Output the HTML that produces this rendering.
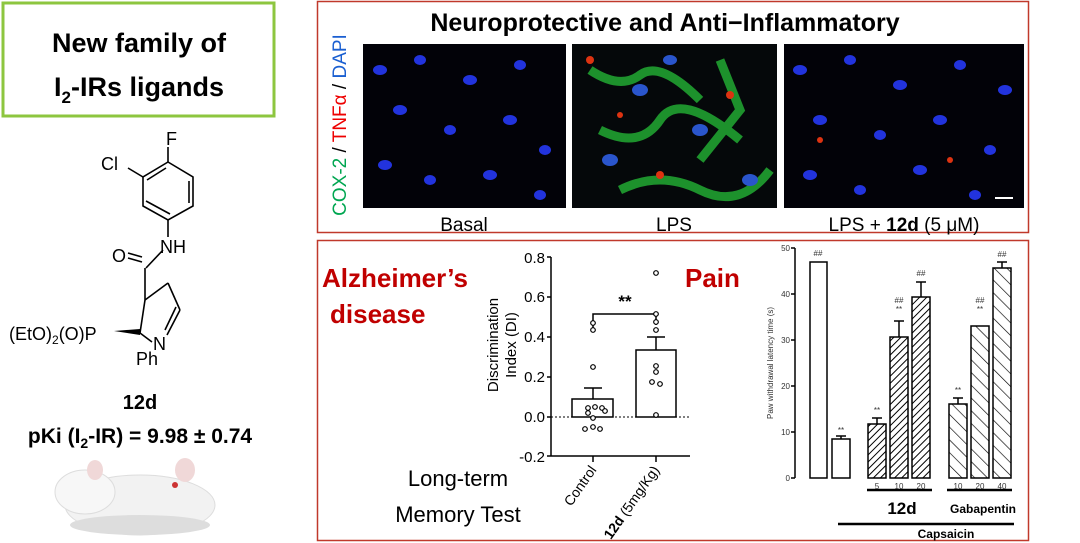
<!DOCTYPE html>
<html><head><meta charset="utf-8"><style>
body{margin:0;background:#fff;width:1080px;height:543px;overflow:hidden}
svg{display:block}
text{font-family:"Liberation Sans",sans-serif}
</style></head><body>
<svg width="1080" height="543" viewBox="0 0 1080 543" xmlns="http://www.w3.org/2000/svg">
<defs>
<pattern id="h1" width="5" height="5" patternUnits="userSpaceOnUse" patternTransform="rotate(45)"><rect width="5" height="5" fill="#fff"/><line x1="0" y1="0" x2="0" y2="5" stroke="#000" stroke-width="2"/></pattern>
<pattern id="h2" width="9" height="9" patternUnits="userSpaceOnUse" patternTransform="rotate(-45)"><rect width="9" height="9" fill="#fff"/><line x1="0" y1="0" x2="0" y2="9" stroke="#000" stroke-width="1.3"/></pattern>
</defs>
<!-- green box -->
<rect x="3" y="3" width="271" height="113" fill="#fff" stroke="#8dc63f" stroke-width="3"/>
<text x="139" y="52" font-size="27" font-weight="bold" text-anchor="middle" font-family="Liberation Sans">New family of</text>
<text x="139" y="96" font-size="27" font-weight="bold" text-anchor="middle">I<tspan font-size="17" dy="7">2</tspan><tspan dy="-7">-IRs ligands</tspan></text>
<!-- structure -->
<g stroke="#000" stroke-width="1.6" fill="none">
<line x1="168" y1="147" x2="168" y2="162"/>
<polygon points="168,162 193,177 193,206 168,220 143,206 143,177"/>
<line x1="189" y1="181" x2="189" y2="203"/><line x1="170" y1="214" x2="146" y2="201"/><line x1="147" y1="180" x2="166" y2="168"/>
<line x1="143" y1="177" x2="128" y2="168"/>
<line x1="168" y1="220" x2="168" y2="237"/>
<line x1="163" y1="250" x2="146" y2="268"/>
<line x1="142" y1="257" x2="128" y2="253"/><line x1="142" y1="262" x2="128" y2="258"/>
<line x1="145" y1="268" x2="145" y2="300"/>
<line x1="145" y1="300" x2="168" y2="283"/><line x1="168" y1="283" x2="180" y2="310"/>
<line x1="180" y1="310" x2="167" y2="335"/><line x1="176" y1="307" x2="165" y2="330"/>
<line x1="145" y1="300" x2="140" y2="333"/>
<line x1="140" y1="333" x2="152" y2="342"/>
</g>
<polygon points="114,331 140,329 140,335" fill="#000"/>
<text x="166" y="145" font-size="18">F</text>
<text x="101" y="170" font-size="18">Cl</text>
<text x="112" y="262" font-size="18">O</text>
<text x="160" y="253" font-size="18">NH</text>
<text x="9" y="340" font-size="18">(EtO)<tspan font-size="12" dy="4">2</tspan><tspan dy="-4">(O)P</tspan></text>
<text x="153" y="350" font-size="18">N</text>
<text x="136" y="365" font-size="18">Ph</text>
<text x="140" y="409" font-size="20" font-weight="bold" text-anchor="middle">12d</text>
<text x="140" y="443" font-size="21" font-weight="bold" text-anchor="middle">pKi (I<tspan font-size="14" dy="5">2</tspan><tspan dy="-5">-IR) = 9.98 ± 0.74</tspan></text>
<!-- rat -->
<g>
<ellipse cx="140" cy="505" rx="75" ry="30" fill="#f2f2f2" stroke="#ddd"/>
<ellipse cx="85" cy="492" rx="30" ry="22" fill="#f7f7f7" stroke="#ddd"/>
<ellipse cx="95" cy="470" rx="8" ry="10" fill="#f0d8d8"/>
<ellipse cx="185" cy="470" rx="10" ry="12" fill="#f0d8d8"/>
<circle cx="175" cy="485" r="3" fill="#c33"/>
<ellipse cx="140" cy="525" rx="70" ry="10" fill="#ddd"/>
</g>
<!-- top red box -->
<rect x="317.5" y="1.5" width="711" height="231" fill="none" stroke="#c0392b" stroke-width="1.5"/>
<text x="665" y="31" font-size="25" font-weight="bold" text-anchor="middle">Neuroprotective  and  Anti−Inflammatory</text>
<g transform="translate(346,125) rotate(-90)"><text font-size="19" text-anchor="middle" x="0" y="0"><tspan fill="#00a651">COX-2</tspan> / <tspan fill="#e00">TNFα</tspan> / <tspan fill="#1a5fd1">DAPI</tspan></text></g>
<rect x="363" y="44" width="203" height="164" fill="#020208"/>
<rect x="572" y="44" width="205" height="164" fill="#05080a"/>
<rect x="784" y="44" width="240" height="164" fill="#020208"/>
<g fill="#2233dd">
<ellipse cx="380" cy="70" rx="7" ry="5"/><ellipse cx="420" cy="60" rx="6" ry="5"/><ellipse cx="470" cy="80" rx="7" ry="5"/><ellipse cx="520" cy="65" rx="6" ry="5"/><ellipse cx="400" cy="110" rx="7" ry="5"/><ellipse cx="450" cy="130" rx="6" ry="5"/><ellipse cx="510" cy="120" rx="7" ry="5"/><ellipse cx="545" cy="150" rx="6" ry="5"/><ellipse cx="385" cy="165" rx="7" ry="5"/><ellipse cx="430" cy="180" rx="6" ry="5"/><ellipse cx="490" cy="175" rx="7" ry="5"/><ellipse cx="540" cy="195" rx="6" ry="5"/>
<ellipse cx="800" cy="70" rx="7" ry="5"/><ellipse cx="850" cy="60" rx="6" ry="5"/><ellipse cx="900" cy="85" rx="7" ry="5"/><ellipse cx="960" cy="65" rx="6" ry="5"/><ellipse cx="1005" cy="90" rx="7" ry="5"/><ellipse cx="820" cy="120" rx="7" ry="5"/><ellipse cx="880" cy="135" rx="6" ry="5"/><ellipse cx="940" cy="120" rx="7" ry="5"/><ellipse cx="990" cy="150" rx="6" ry="5"/><ellipse cx="810" cy="175" rx="7" ry="5"/><ellipse cx="860" cy="190" rx="6" ry="5"/><ellipse cx="920" cy="170" rx="7" ry="5"/><ellipse cx="975" cy="195" rx="6" ry="5"/>
</g>
<g stroke="#22aa33" stroke-width="9" fill="none" opacity="0.85">
<path d="M590 70 Q620 90 640 75 T700 100"/><path d="M600 130 Q640 150 660 120 T740 140"/><path d="M620 190 Q660 170 700 190 T770 170"/><path d="M720 60 L740 110 L700 160"/>
</g>
<g fill="#2a55cc"><ellipse cx="640" cy="90" rx="8" ry="6"/><ellipse cx="700" cy="130" rx="8" ry="6"/><ellipse cx="610" cy="160" rx="8" ry="6"/><ellipse cx="750" cy="180" rx="8" ry="6"/><ellipse cx="670" cy="60" rx="7" ry="5"/></g>
<g fill="#dd3311"><circle cx="590" cy="60" r="4"/><circle cx="660" cy="175" r="4"/><circle cx="730" cy="95" r="4"/><circle cx="620" cy="115" r="3"/><circle cx="820" cy="140" r="3"/><circle cx="950" cy="160" r="3"/></g>
<line x1="995" y1="198" x2="1013" y2="198" stroke="#fff" stroke-width="2"/>
<text x="464" y="231" font-size="19" text-anchor="middle">Basal</text>
<text x="674" y="231" font-size="19" text-anchor="middle">LPS</text>
<text x="904" y="231" font-size="19" text-anchor="middle">LPS + <tspan font-weight="bold">12d</tspan> (5 μM)</text>
<!-- bottom red box -->
<rect x="317.5" y="240.5" width="711" height="300" fill="none" stroke="#c0392b" stroke-width="1.5"/>
<text x="322" y="287" font-size="26" font-weight="bold" fill="#c00000">Alzheimer’s</text>
<text x="330" y="323" font-size="26" font-weight="bold" fill="#c00000">disease</text>
<text x="685" y="287" font-size="26" font-weight="bold" fill="#c00000">Pain</text>
<text x="458" y="486" font-size="22" text-anchor="middle">Long-term</text>
<text x="458" y="522" font-size="22" text-anchor="middle">Memory Test</text>
<!-- DI chart -->
<g font-size="15" text-anchor="end">
<text x="545" y="263">0.8</text><text x="545" y="302">0.6</text><text x="545" y="342">0.4</text><text x="545" y="382">0.2</text><text x="545" y="422">0.0</text><text x="545" y="462">-0.2</text>
</g>
<g stroke="#000" stroke-width="1.5" fill="none">
<line x1="551" y1="257" x2="551" y2="456"/>
<line x1="547" y1="257" x2="551" y2="257"/><line x1="547" y1="297" x2="551" y2="297"/><line x1="547" y1="337" x2="551" y2="337"/><line x1="547" y1="377" x2="551" y2="377"/><line x1="547" y1="417" x2="551" y2="417"/><line x1="547" y1="456" x2="551" y2="456"/>
<line x1="551" y1="456" x2="690" y2="456"/>
<line x1="593" y1="456" x2="593" y2="462"/><line x1="656" y1="456" x2="656" y2="462"/>
<rect x="572" y="399" width="41" height="18"/>
<rect x="636" y="350" width="40" height="67"/>
<line x1="593" y1="399" x2="593" y2="388"/><line x1="584" y1="388" x2="602" y2="388"/>
<line x1="656" y1="350" x2="656" y2="337"/><line x1="647" y1="337" x2="665" y2="337"/>
<path d="M593 330 V314 H656 V325"/>
</g>
<line x1="551" y1="417" x2="690" y2="417" stroke="#000" stroke-dasharray="2,2"/>
<text x="625" y="307" font-size="17" font-weight="bold" text-anchor="middle">**</text>
<g fill="#fff" stroke="#000" stroke-width="1.2">
<circle cx="593" cy="323" r="2.3"/><circle cx="593" cy="330" r="2.3"/><circle cx="593" cy="367" r="2.3"/><circle cx="588" cy="408" r="2.3"/><circle cx="595" cy="407" r="2.3"/><circle cx="602" cy="408" r="2.3"/><circle cx="605" cy="411" r="2.3"/><circle cx="588" cy="413" r="2.3"/><circle cx="593" cy="418" r="2.3"/><circle cx="585" cy="429" r="2.3"/><circle cx="593" cy="427" r="2.3"/><circle cx="600" cy="429" r="2.3"/>
<circle cx="656" cy="273" r="2.3"/><circle cx="656" cy="314" r="2.3"/><circle cx="656" cy="322" r="2.3"/><circle cx="656" cy="330" r="2.3"/><circle cx="656" cy="366" r="2.3"/><circle cx="656" cy="372" r="2.3"/><circle cx="652" cy="382" r="2.3"/><circle cx="660" cy="384" r="2.3"/><circle cx="656" cy="415" r="2.3"/>
</g>
<g transform="translate(498,345) rotate(-90)" font-size="15" text-anchor="middle"><text x="0" y="0">Discrimination</text><text x="0" y="18">Index (DI)</text></g>
<g transform="translate(597,470) rotate(-55)" font-size="14" text-anchor="end"><text>Control</text></g>
<g transform="translate(660,470) rotate(-55)" font-size="14" text-anchor="end"><text><tspan font-weight="bold">12d</tspan> (5mg/Kg)</text></g>
<!-- pain chart -->
<g stroke="#000" stroke-width="1.5" fill="none">
<line x1="795" y1="248" x2="795" y2="478"/>
<line x1="791" y1="248" x2="795" y2="248"/><line x1="791" y1="294" x2="795" y2="294"/><line x1="791" y1="340" x2="795" y2="340"/><line x1="791" y1="386" x2="795" y2="386"/><line x1="791" y1="432" x2="795" y2="432"/><line x1="791" y1="478" x2="795" y2="478"/>
<rect x="810" y="262" width="17" height="216" fill="#fff"/>
<rect x="832" y="439" width="18" height="39" fill="#fff"/>
<rect x="868" y="424" width="18" height="54" fill="url(#h1)"/>
<rect x="890" y="337" width="18" height="141" fill="url(#h1)"/>
<rect x="912" y="297" width="18" height="181" fill="url(#h1)"/>
<rect x="949" y="404" width="18" height="74" fill="url(#h2)"/>
<rect x="971" y="326" width="18" height="152" fill="url(#h2)"/>
<rect x="993" y="268" width="18" height="210" fill="url(#h2)"/>
<path d="M877 424V418M872 418H882M899 337V321M894 321H904M921 297V282M916 282H926M958 404V398M953 398H963M1002 268V262M997 262H1007M841 439V436M836 436H846"/>
</g>
<g font-size="8" text-anchor="end" fill="#333"><text x="790" y="251">50</text><text x="790" y="297">40</text><text x="790" y="343">30</text><text x="790" y="389">20</text><text x="790" y="435">10</text><text x="790" y="481">0</text></g>
<g transform="translate(773,363) rotate(-90)"><text font-size="8" text-anchor="middle" fill="#333">Paw withdrawal latency time (s)</text></g>
<g font-size="8" text-anchor="middle" fill="#333">
<text x="818" y="256">##</text><text x="841" y="433">**</text><text x="877" y="413">**</text><text x="899" y="303">##</text><text x="899" y="312">**</text><text x="921" y="276">##</text><text x="958" y="393">**</text><text x="980" y="303">##</text><text x="980" y="312">**</text><text x="1002" y="257">##</text>
<text x="877" y="489">5</text><text x="899" y="489">10</text><text x="921" y="489">20</text><text x="958" y="489">10</text><text x="980" y="489">20</text><text x="1002" y="489">40</text>
</g>
<g stroke="#000" stroke-width="2.5"><line x1="867" y1="490" x2="932" y2="490"/><line x1="947" y1="490" x2="1012" y2="490"/><line x1="838" y1="524" x2="1014" y2="524"/></g>
<text x="902" y="514" font-size="17" font-weight="bold" text-anchor="middle">12d</text>
<text x="983" y="513" font-size="12" font-weight="bold" text-anchor="middle">Gabapentin</text>
<text x="946" y="538" font-size="12" font-weight="bold" text-anchor="middle">Capsaicin</text>
</svg>
</body></html>
